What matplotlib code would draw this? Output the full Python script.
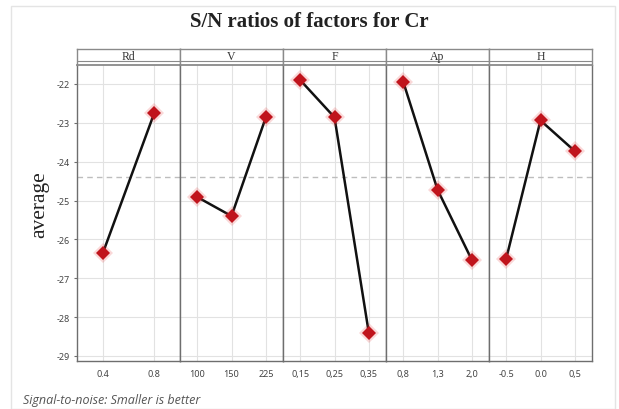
import matplotlib.pyplot as plt
from matplotlib.patches import Rectangle

plt.rcParams['axes.unicode_minus'] = False

# main effects data (S/N ratios)
factors = ['Rd', 'V', 'F', 'Ap', 'H']
level_labels = [
    ['0.4', '0.8'],
    ['100', '150', '225'],
    ['0,15', '0,25', '0,35'],
    ['0,8', '1,3', '2,0'],
    ['-0.5', '0.0', '0,5'],
]
sn_means = [
    [-26.36, -22.75],
    [-24.91, -25.40, -22.86],
    [-21.90, -22.86, -28.41],
    [-21.94, -24.72, -26.53],
    [-26.50, -22.94, -23.73],
]
overall_mean = -24.39
y_ticks = [-22, -23, -24, -25, -26, -27, -28, -29]

W, H = 619, 410
fig = plt.figure(figsize=(W / 100, H / 100), dpi=100)

# light border around the figure
fig.patches.append(Rectangle((11 / W, 0), (615 - 11) / W, 1 - 7 / H, transform=fig.transFigure,
                             fill=False, edgecolor='#e4e4e4', linewidth=1))

left, right = 77, 592
top, bottom = 65.5, 362
strip_top = 50
pw = (right - left) / len(factors)
frame_col = '#6e6e6e'

axes = []
for i, name in enumerate(factors):
    x0 = left + i * pw
    ax = fig.add_axes([x0 / W, 1 - bottom / H, pw / W, (bottom - top) / H],
                      sharey=axes[0] if axes else None)
    axes.append(ax)
    n = len(level_labels[i])
    xs = list(range(1, n + 1))
    ax.set_xlim(0.5, n + 0.5)
    ax.set_ylim(-29.13, -21.5)
    ax.set_xticks(xs)
    ax.set_xticklabels(level_labels[i], fontsize=6.5, color='#444444', family='Noto Sans')
    ax.set_yticks(y_ticks)
    ax.grid(True, color='#e2e2e2', linewidth=0.8)
    ax.set_axisbelow(True)
    ax.axhline(overall_mean, color='#bdbdbd', linestyle=(0, (4, 3)), linewidth=1, zorder=1)
    ax.plot(xs, sn_means[i], color='#111111', linewidth=1.8, zorder=3)
    ax.plot(xs, sn_means[i], linestyle='none', marker='D', markersize=10,
            color='#e84040', alpha=0.2, markeredgewidth=0, zorder=4)
    ax.plot(xs, sn_means[i], linestyle='none', marker='D', markersize=7.5,
            color='#c0141c', markeredgewidth=0, zorder=5)
    ax.tick_params(axis='x', length=0, pad=6)
    for s in ax.spines.values():
        s.set_color(frame_col)
        s.set_linewidth(1)
    ax.spines['top'].set_visible(False)
    if i == 0:
        ax.tick_params(axis='y', length=2, color=frame_col, labelsize=6.5, labelcolor='#444444', pad=3)
        for lbl in ax.get_yticklabels():
            lbl.set_family('Noto Sans')
    else:
        ax.tick_params(axis='y', left=False, labelleft=False)

    # strip header
    sx = fig.add_axes([x0 / W, 1 - top / H, pw / W, (top - strip_top) / H])
    sx.set_xticks([])
    sx.set_yticks([])
    sx.set_facecolor('white')
    for s in sx.spines.values():
        s.set_color('#8a8a8a')
        s.set_linewidth(1)
    sx.spines['bottom'].set_linewidth(1.3)
    sx.axhline(0.2, color='#8a8a8a', linewidth=0.8)
    sx.text(0.5, 0.58, name, ha='center', va='center', fontsize=8.5,
            family='Liberation Serif', color='#333333', transform=sx.transAxes)

fig.text(0.5, 1 - 22 / H, 'S/N ratios of factors for Cr', ha='center', va='center',
         fontsize=15, fontweight='bold', family='Liberation Serif', color='#222222')
fig.text(40 / W, 1 - 205 / H, 'average', ha='center', va='center', rotation=90,
         fontsize=15.5, family='Liberation Serif', color='#222222')
fig.text(23 / W, 1 - 401 / H, 'Signal-to-noise: Smaller is better', ha='left', va='center',
         fontsize=9, style='italic', family='Open Sans', color='#555555')

fig.savefig('out.png', dpi=100)
